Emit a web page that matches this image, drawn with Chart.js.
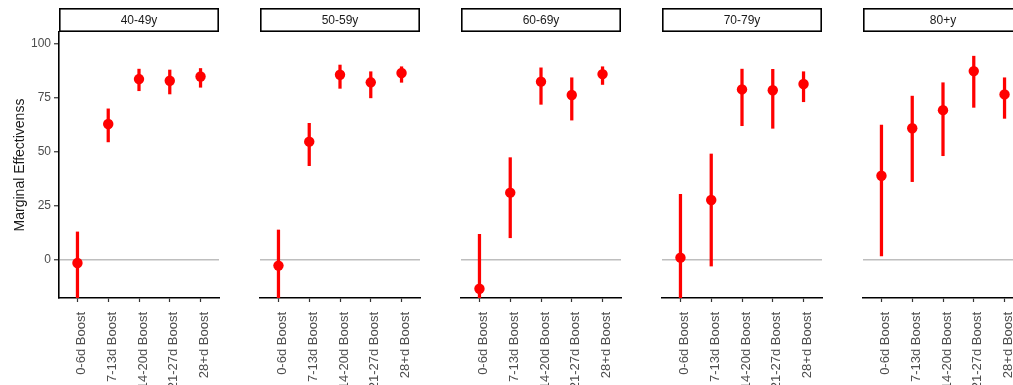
<!DOCTYPE html>
<html>
<head>
<meta charset="utf-8">
<script src="https://cdn.jsdelivr.net/npm/chart.js@4.4.0/dist/chart.umd.min.js"></script>
<style>
  html, body { margin: 0; padding: 0; background: #fff; overflow: hidden; }
  #wrap { position: relative; width: 1013px; height: 385px; overflow: hidden; }
  #wrap canvas { position: absolute; top: 0; }
</style>
</head>
<body>
<div id="wrap"></div>
<script>
// categories on the x axis of every panel
const categories = ['0-6d Boost', '7-13d Boost', '14-20d Boost', '21-27d Boost', '28+d Boost'];
// one panel per age group
const ageGroups = ['40-49y', '50-59y', '60-69y', '70-79y', '80+y'];
const yTicks = [0, 25, 50, 75, 100];

// point estimate, lower and upper bound
const est40 = [-1.4, 63.0, 83.8, 83.0, 85.0];
const lo40  = [-35, 54.7, 78.4, 76.9, 80.0];
const hi40  = [13.0, 70.0, 88.4, 88.0, 88.7];

const est50 = [-2.6, 54.8, 85.8, 82.3, 86.6];
const lo50  = [-30, 43.7, 79.5, 75.1, 82.3];
const hi50  = [13.9, 63.3, 90.3, 87.2, 89.5];

const est60 = [-13.3, 31.2, 82.6, 76.4, 86.1];
const lo60  = [-40, 10.3, 72.1, 64.8, 81.3];
const hi60  = [11.9, 47.4, 89.0, 84.4, 89.5];

const est70 = [1.1, 27.8, 79.0, 78.6, 81.5];
const lo70  = [-35, -2.8, 62.2, 61.0, 73.3];
const hi70  = [30.4, 49.1, 88.4, 88.3, 87.2];

const est80 = [39.0, 61.0, 69.4, 87.5, 76.7];
const lo80  = [1.9, 36.3, 48.3, 70.7, 65.6];
const hi80  = [62.5, 75.9, 82.1, 94.4, 84.4];

const estimates = [est40, est50, est60, est70, est80];
const lowers = [lo40, lo50, lo60, lo70, lo80];
const uppers = [hi40, hi50, hi60, hi70, hi80];

const FONT = '"Liberation Sans", Arial, sans-serif';
const RED = '#FF0000';

// facet strip above each panel
const stripPlugin = {
  id: 'strip',
  afterDraw(chart, args, opts) {
    const {ctx, chartArea} = chart;
    const top = 8;
    const h = chartArea.top - top;
    ctx.save();
    ctx.fillStyle = '#fff';
    ctx.fillRect(chartArea.left, top, chartArea.width, h);
    ctx.strokeStyle = '#000';
    ctx.lineWidth = 1.6;
    ctx.strokeRect(chartArea.left + 0.8, top + 0.8, chartArea.width - 1.6, h - 1.6);
    ctx.fillStyle = '#1a1a1a';
    ctx.font = '12px ' + FONT;
    ctx.textAlign = 'center';
    ctx.textBaseline = 'middle';
    ctx.fillText(opts.text, chartArea.left + chartArea.width / 2, top + h / 2 + 0.5);
    ctx.restore();
  }
};

const wrap = document.getElementById('wrap');

ageGroups.forEach((age, p) => {
  const first = p === 0;
  const plotLeft = 59 + p * 201;
  const canvas = document.createElement('canvas');
  canvas.width = first ? 59 + 160 + 20 : 200;
  canvas.height = 385;
  canvas.style.left = (first ? 0 : plotLeft - 20) + 'px';
  wrap.appendChild(canvas);

  const est = estimates[p], lo = lowers[p], hi = uppers[p];

  new Chart(canvas, {
    type: 'scatter',
    data: {
      datasets: [
        {
          type: 'scatter',
          data: categories.map((c, i) => ({x: i + 1, y: est[i]})),
          backgroundColor: RED,
          borderWidth: 0,
          pointRadius: 5.2,
          order: 0
        },
        {
          type: 'bar',
          data: categories.map((c, i) => ({x: i + 1, y: [lo[i], hi[i]]})),
          backgroundColor: RED,
          borderWidth: 0,
          barThickness: 2.6,
          order: 1
        }
      ]
    },
    options: {
      responsive: false,
      animation: false,
      devicePixelRatio: 1,
      layout: {padding: {left: first ? 0 : 20, right: 20, top: 32, bottom: 0}},
      plugins: {
        legend: {display: false},
        tooltip: {enabled: false},
        strip: {text: age}
      },
      scales: {
        x: {
          type: 'linear',
          min: 0.4,
          max: 5.6,
          offset: false,
          afterBuildTicks: s => { s.ticks = categories.map((c, i) => ({value: i + 1})); },
          afterFit: s => { s.height = 87; },
          ticks: {
            autoSkip: false,
            minRotation: 90,
            maxRotation: 90,
            padding: 10,
            labelOffset: 4,
            color: '#4d4d4d',
            font: {family: FONT, size: 13},
            callback: v => categories[v - 1]
          },
          grid: {
            offset: false,
            drawOnChartArea: false,
            drawTicks: true,
            tickLength: 4,
            tickColor: '#333',
            tickWidth: 1.2
          },
          border: {color: '#000', width: 1.6}
        },
        y: {
          min: -17.6,
          max: 105.6,
          afterBuildTicks: s => { s.ticks = yTicks.map(v => ({value: v})); },
          afterFit: s => { s.width = first ? 59 : 0; },
          ticks: {
            display: first,
            padding: 3,
            color: '#4d4d4d',
            font: {family: FONT, size: 12}
          },
          grid: {
            color: ctx => (ctx.tick && ctx.tick.value === 0) ? '#BEBEBE' : 'rgba(0,0,0,0)',
            lineWidth: 1.5,
            drawTicks: first,
            tickLength: 5,
            tickColor: '#333',
            tickWidth: 1.2
          },
          border: {display: first, color: '#000', width: 1.6},
          title: {
            display: first,
            text: 'Marginal Effectivenss',
            color: '#1a1a1a',
            padding: {top: 12, bottom: 0},
            font: {family: FONT, size: 14}
          }
        }
      }
    },
    plugins: [stripPlugin]
  });
});
</script>
</body>
</html>
